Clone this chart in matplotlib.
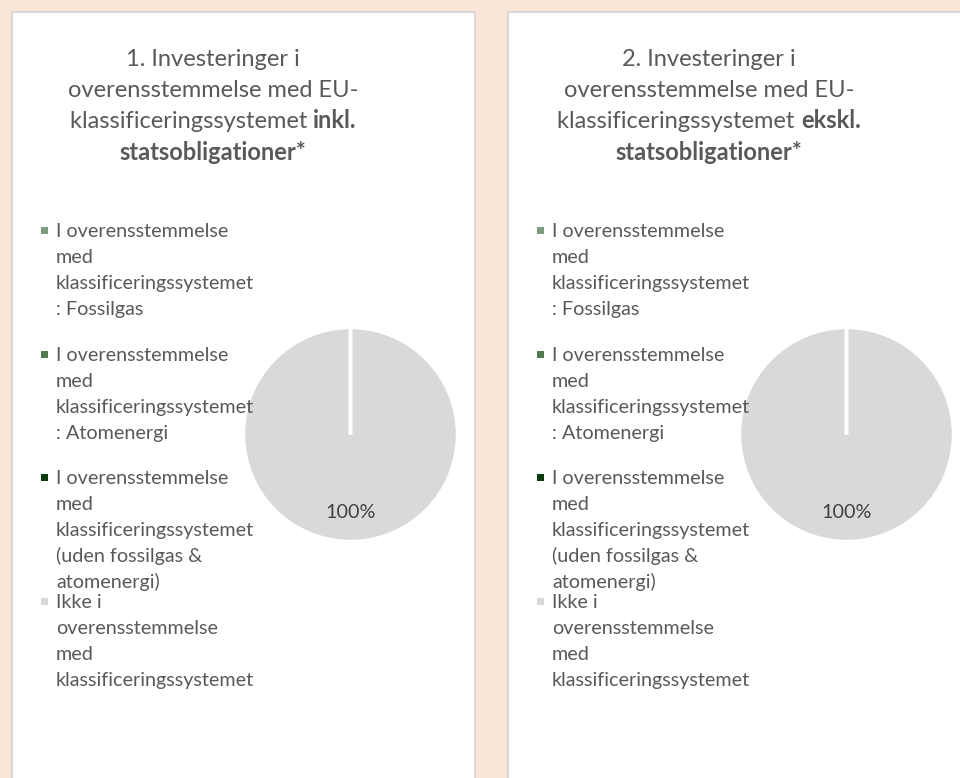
import matplotlib.pyplot as plt
import matplotlib.patches as patches

# data
categories = [
    "I overensstemmelse\nmed\nklassificeringssystemet\n: Fossilgas",
    "I overensstemmelse\nmed\nklassificeringssystemet\n: Atomenergi",
    "I overensstemmelse\nmed\nklassificeringssystemet\n(uden fossilgas &\natomenergi)",
    "Ikke i\noverensstemmelse\nmed\nklassificeringssystemet",
]
colors = ['#7C9E7F', '#4F7A52', '#0B3B0E', '#D9D9D9']
values_inkl = [0, 0, 0, 100]
values_ekskl = [0, 0, 0, 100]
titles = [
    [[("1. Investeringer i", False)],
     [("overensstemmelse med EU-", False)],
     [("klassificeringssystemet ", False), ("inkl.", True)],
     [("statsobligationer*", True)]],
    [[("2. Investeringer i", False)],
     [("overensstemmelse med EU-", False)],
     [("klassificeringssystemet ", False), ("ekskl.", True)],
     [("statsobligationer*", True)]],
]

FONT = ['Lato', 'DejaVu Sans']
TXT = '#595959'
W, H = 960, 778

fig = plt.figure(figsize=(9.6, 7.78), dpi=100)
fig.patch.set_facecolor('#FBE5D6')
r = fig.canvas.get_renderer()


def fx(x):
    return x / W


def fy(y):
    return 1 - y / H


def width(s, size, bold=False):
    t = fig.text(0, 0, s, fontsize=size, family=FONT, weight='bold' if bold else 'normal')
    w = t.get_window_extent(r).width
    t.remove()
    return w


# fit font sizes to the widths seen in the picture
leg_size = 10 * 198 / width("klassificeringssystemet", 10)
title_size = 10 * 290 / width("overensstemmelse med EU-", 10)

# white panels
for x0, x1 in [(12, 475), (508, 975)]:
    fig.add_artist(patches.Rectangle((fx(x0), -0.05), (x1 - x0) / W, fy(12) + 0.05,
                                     transform=fig.transFigure, facecolor='white',
                                     edgecolor='#D9D9D9', lw=1.5, zorder=0.5))

for k, vals in enumerate([values_inkl, values_ekskl]):
    off = 496 * k

    # title, centred, with bold parts
    for i, line in enumerate(titles[k]):
        yb = 65.5 + i * 31.5
        total = sum(width(s, title_size, b) for s, b in line)
        x = 213 + off - total / 2
        for s, b in line:
            fig.text(fx(x), fy(yb), s, fontsize=title_size, family=FONT,
                     weight='bold' if b else 'normal', color=TXT, va='baseline', ha='left')
            x += width(s, title_size, b)

    # legend
    for j, (lab, c) in enumerate(zip(categories, colors)):
        y0 = 237 + j * 123.6
        fig.add_artist(patches.Rectangle((fx(41 + off), fy(y0 - 3)), 7 / W, 7 / H,
                                         transform=fig.transFigure, facecolor=c,
                                         edgecolor='none', zorder=3))
        for i, part in enumerate(lab.split("\n")):
            fig.text(fx(56 + off), fy(y0 + i * 26), part, fontsize=leg_size, family=FONT,
                     color=TXT, va='baseline', ha='left')

    # pie
    cx, cy, rad = 350.5 + off, 434.5, 107
    ax = fig.add_axes([fx(cx - rad), fy(cy + rad), 2 * rad / W, 2 * rad / H])
    wedges, texts, autotexts = ax.pie(
        vals, colors=colors, startangle=90, counterclock=False,
        wedgeprops=dict(edgecolor='white', linewidth=2.5),
        autopct=lambda p: f'{p:.0f}%' if p > 0 else '', pctdistance=0.73,
        textprops=dict(fontsize=leg_size, family=FONT, color='#404040'))
    # empty slices show only as the white seam at the top
    for w, v in zip(wedges, vals):
        if v == 0:
            w.set_zorder(3)
    for t in autotexts:
        t.set_zorder(4)
    ax.set_xlim(-1, 1)
    ax.set_ylim(-1, 1)
    ax.set_zorder(1)
    ax.patch.set_visible(False)

fig.savefig('out.png', dpi=100, facecolor=fig.get_facecolor())
